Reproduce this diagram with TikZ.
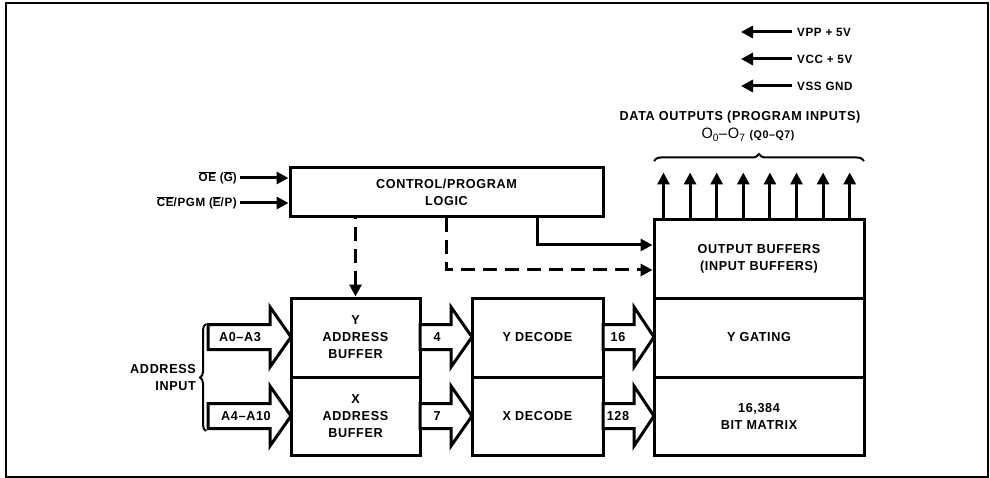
\documentclass[tikz,border=0pt]{standalone}
\usepackage{fontspec}
\setmainfont{Liberation Sans}[LetterSpace=5,FakeStretch=0.97]
\usetikzlibrary{arrows.meta,decorations.pathreplacing,calc}
\newcommand\ovl[1]{$\overline{\mbox{#1}}$}
% fat arrow: x-start, x-head-base, x-tip, y-centre
\newcommand\fatarr[4]{%
  \draw[fatline] (#1,#4-12.5) -- (#2,#4-12.5) -- (#2,#4-30) -- (#3,#4)
    -- (#2,#4+30) -- (#2,#4+12.5) -- (#1,#4+12.5) -- cycle;}
\begin{document}
\begin{tikzpicture}[x=1pt,y=-1pt,
  every node/.style={font=\fontsize{13}{17}\selectfont\bfseries, align=center},
  box/.style={draw, line width=3pt, inner sep=0pt},
  fatline/.style={draw, line width=3pt, line join=miter, fill=white},
  sig/.style={line width=3pt, -{Triangle[length=12pt,width=12pt]}},
  dashline/.style={line width=3pt, dash pattern=on 14pt off 8pt},
  smalltxt/.style={font=\fontsize{12}{14}\selectfont\bfseries},
  bracestyle/.style={line width=2pt, decorate, decoration={brace, amplitude=7pt}}]
\useasboundingbox (0,0) rectangle (990,478);
\draw[line width=1.5pt] (6,3) rectangle (988,477);

% boxes
\node[box, minimum width=313pt, minimum height=49pt] (ctrl) at (446.5,192.5) {CONTROL/PROGRAM\\LOGIC};
\node[box, minimum width=210pt, minimum height=78pt] (obuf) at (759,259) {OUTPUT BUFFERS\\(INPUT BUFFERS)};
\node[box, minimum width=210pt, minimum height=79pt] (ygate) at (759,337.5) {Y GATING};
\node[box, minimum width=210pt, minimum height=78pt] (bitm) at (759,416) {16,384\\BIT MATRIX};
\node[box, minimum width=129pt, minimum height=79pt] (yab) at (355.5,337.5) {Y\\ADDRESS\\BUFFER};
\node[box, minimum width=129pt, minimum height=78pt] (xab) at (355.5,416) {X\\ADDRESS\\BUFFER};
\node[box, minimum width=131pt, minimum height=79pt] (ydec) at (537.5,337.5) {Y DECODE};
\node[box, minimum width=131pt, minimum height=78pt] (xdec) at (537.5,416) {X DECODE};

% fat arrows
\fatarr{208}{270}{291}{337}
\fatarr{208}{270}{291}{416}
\fatarr{420}{451}{472}{337}
\fatarr{420}{451}{472}{416}
\fatarr{603}{634}{654}{337}
\fatarr{603}{634}{654}{416}
\node (la0) at (240,337) {A0--A3};
\node (la4) at (246,416) {A4--A10};
\node (l4) at (437,337) {4};
\node (l7) at (437,416) {7};
\node (l16) at (618,337) {16};
\node (l128) at (618,416) {128};

% address input
\node[anchor=east, align=right, inner sep=0pt] (addr) at (196,378) {ADDRESS\\INPUT};
\coordinate (bb) at (206,431);
\coordinate (bt) at (206,324);
\draw[bracestyle, decoration={amplitude=6pt}] (bb) -- (bt);

% control inputs
\node[smalltxt, anchor=east, inner sep=3pt] (oe) at (240,178) {\ovl{OE} (\ovl{G})};
\node[smalltxt, anchor=east, inner sep=3pt] (ce) at (240,203) {\ovl{CE}/PGM (\ovl{E}/P)};
\draw[sig] (oe) -- (oe -| ctrl.west);
\draw[sig] (ce) -- (ce -| ctrl.west);

% control outputs
\draw[dashline, dash phase=13pt, sig] (ctrl.south -| yab.north) -- (yab.north);
\draw[dashline, sig] (ctrl.south) |- ($(obuf.west)+(0,11)$);
\draw[sig] (ctrl.south -| ydec.north) |- ($(obuf.west)+(0,-14)$);

% data outputs
\foreach \i in {0,...,7}
  \draw[sig] ($(obuf.north west)+(11+26.6*\i,0)$) -- ++(0,-46);
\coordinate (brl) at (654,161);
\coordinate (brr) at (864,161);
\draw[bracestyle] (brl) -- (brr);
\node (dout) at (740,117) {DATA OUTPUTS (PROGRAM INPUTS)};
\node (oq) at (748,135) {{\fontsize{15}{15}\selectfont\mdseries O\textsubscript{0}--O\textsubscript{7}} {\fontsize{11}{12}\selectfont(Q0--Q7)}};

% power
\node[smalltxt, anchor=west, inner xsep=5pt, inner ysep=0pt] (vpp) at (792,32) {VPP + 5V};
\node[smalltxt, anchor=west, inner xsep=5pt, inner ysep=0pt] (vcc) at (792,59) {VCC + 5V};
\node[smalltxt, anchor=west, inner xsep=5pt, inner ysep=0pt] (vss) at (792,86) {VSS GND};
\coordinate (pvpp) at (741,32);
\coordinate (pvcc) at (741,59);
\coordinate (pvss) at (741,86);
\draw[sig] (vpp) -- (pvpp);
\draw[sig] (vcc) -- (pvcc);
\draw[sig] (vss) -- (pvss);
\end{tikzpicture}
\end{document}
